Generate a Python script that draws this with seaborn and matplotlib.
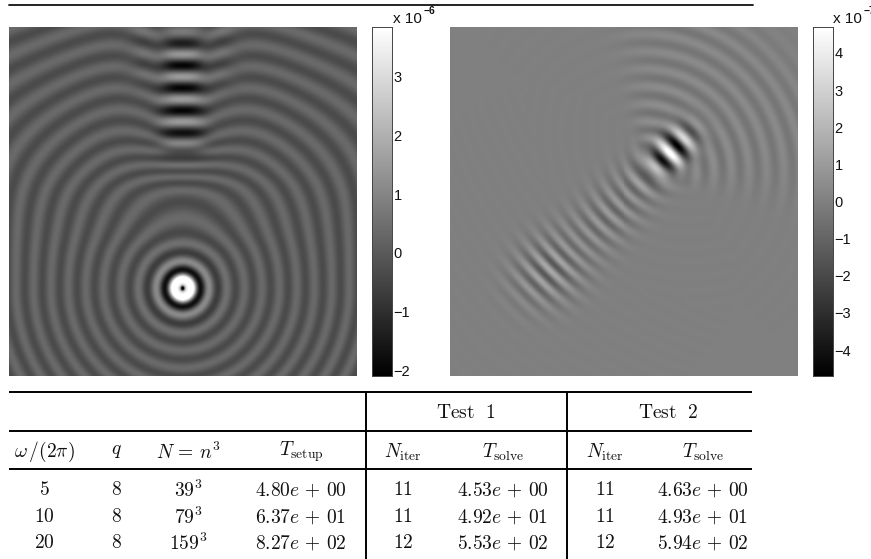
import numpy as np
import seaborn as sns
import matplotlib
matplotlib.use("Agg")
import matplotlib.pyplot as plt

# ---- table content ----
col_headers = [r"$\omega\,/(2\pi)$", r"$q$", r"$N\,=\,n^3$", r"$T_{\mathrm{setup}}$",
               r"$N_{\mathrm{iter}}$", r"$T_{\mathrm{solve}}$", r"$N_{\mathrm{iter}}$", r"$T_{\mathrm{solve}}$"]
group_headers = [r"$\mathrm{Test\ \ 1}$", r"$\mathrm{Test\ \ 2}$"]
freq = ["5", "10", "20"]
q_vals = ["8", "8", "8"]
grid_n = ["39", "79", "159"]
t_setup = ["4.80e+00", "6.37e+01", "8.27e+02"]
n_iter_1 = ["11", "11", "12"]
t_solve_1 = ["4.53e+00", "4.92e+01", "5.53e+02"]
n_iter_2 = ["11", "11", "12"]
t_solve_2 = ["4.63e+00", "4.93e+01", "5.94e+02"]

# ---- colour scales ----
left_range = (-2.1, 3.85)
right_range = (-4.7, 4.7)
left_ticks = [-2, -1, 0, 1, 2, 3]
right_ticks = [-4, -3, -2, -1, 0, 1, 2, 3, 4]

# ---- parameters of the wave fields, measured on the picture (unit square) ----
src_left = (0.499, 0.2515)
ring_wavelength = 0.050
fringe_wavelength = 0.0645
focus_right = (0.632, 0.639)
arc_centre = (0.56, 0.58)
blob_right = (0.287, 0.304)
arc_wavelength = 0.05

N = 349
u = (np.arange(N) + 0.5) / N
v = 1 - (np.arange(N) + 0.5) / N
U, V = np.meshgrid(u, v)


def smooth(x, a, b):
    t = np.clip((x - a) / (b - a), 0, 1)
    return t * t * (3 - 2 * t)


def left_field():
    dx, dy = U - src_left[0], V - src_left[1]
    up = np.clip(dy, 0, None)
    squeeze = 1 / (1 + (up / 0.5) ** 2)
    dist = np.hypot(dx * np.sqrt(squeeze), dy - 0.12 * up * up)
    r = np.hypot(dx, dy)
    flat = 0.05 * np.exp(-(dx / 0.3) ** 2) * smooth(V, 0.38, 0.56)
    dip = 0.09 * np.exp(-(dx / 0.14) ** 2) * smooth(V, 0.5, 0.72)
    phase = 2 * np.pi * (dist - flat + dip) / ring_wavelength - 3.62
    amp = 0.36 + 10 * np.exp(-dist / 0.03)
    rings = amp * np.cos(phase)
    # bright annulus with a small dark dot at the source
    core = np.exp(-(r / 0.03) ** 2)
    rings = rings * (1 - core) + core * 5.0 - 9 * np.exp(-(r / 0.0075) ** 2)
    env_x = np.exp(-(np.abs(dx) / 0.065) ** 3)
    env_y = smooth(V, 0.56, 0.74) * (1 - 0.45 * smooth(V, 0.9, 1.0))
    lobes = 0.3 * smooth(V, 0.75, 0.9) * np.exp(-((np.abs(dx) - 0.125) / 0.04) ** 2)
    fringe = (1.75 * env_x * env_y + lobes) * np.cos(2 * np.pi * (V - 0.922) / fringe_wavelength)
    weight = 1 - env_x * env_y
    return rings * weight + fringe - 0.25 * env_x * env_y


def right_field():
    s = ((U - focus_right[0]) + (V - focus_right[1])) / np.sqrt(2)
    t = (-(U - focus_right[0]) + (V - focus_right[1])) / np.sqrt(2)
    # arcs beyond the focus
    cx, cy = U - arc_centre[0], V - arc_centre[1]
    r = np.hypot(cx, cy) + 1e-6
    ang = np.arctan2(cy, cx) - np.pi / 4
    ang = (ang + np.pi) % (2 * np.pi) - np.pi
    sector = np.exp(-(ang / 0.95) ** 6)
    arcs = sector * smooth(r, 0.05, 0.13) * (0.34 + 0.9 * np.exp(-r / 0.12)) * \
        (1 - smooth(r, 0.42, 0.62)) * np.cos(2 * np.pi * r / arc_wavelength)
    # hot spot at the focus
    hot = 4.7 * np.exp(-(s / 0.085) ** 2 - (t / 0.045) ** 2) * np.cos(2 * np.pi * s / 0.062)
    # curved ripples along the beam, on the near side of the focus
    back = np.exp(-((s + 0.24) / 0.2) ** 2) * np.exp(-(t / 0.075) ** 2) * smooth(-s, -0.04, 0.05)
    rr = np.hypot(s - 0.08, t)
    ripple = 1.0 * back * np.cos(2 * np.pi * rr / 0.041)
    # stripes of the far blob
    bs = ((U - blob_right[0]) + (V - blob_right[1])) / np.sqrt(2)
    bt = (-(U - blob_right[0]) + (V - blob_right[1])) / np.sqrt(2)
    blob = 1.6 * np.exp(-(bs / 0.105) ** 2 - (bt / 0.085) ** 2) * \
        np.cos(2 * np.pi * (bs - 0.5 * bt ** 2) / 0.0405)
    return arcs + hot + ripple + blob


# ---- layout, in reference pixels ----
W, H = 871, 559
fig = plt.figure(figsize=(W / 100, H / 100), dpi=100)
sns.set_theme(style="white")
plt.rcParams["font.family"] = ["Liberation Sans", "DejaVu Sans"]
plt.rcParams["mathtext.fontset"] = "cm"


def axes_px(x0, y0, x1, y1):
    return fig.add_axes([x0 / W, 1 - y1 / H, (x1 - x0) / W, (y1 - y0) / H])


panels = [
    (left_field(), left_range, left_ticks, (9, 27, 357, 376), (372, 27, 392, 376), "x 10", "\u22126", 393),
    (right_field(), right_range, right_ticks, (450, 27, 798, 376), (813, 27, 833, 376), "x 10", "\u22127", 833),
]
for field, rng, ticks, box, cbox, lab, sup, lx in panels:
    ax = axes_px(*box)
    cax = axes_px(*cbox)
    sns.heatmap(field, ax=ax, cbar_ax=cax, cmap="gray", vmin=rng[0], vmax=rng[1],
                xticklabels=False, yticklabels=False, rasterized=True,
                cbar_kws={"ticks": ticks})
    ax.set_xticks([])
    ax.set_yticks([])
    cax.yaxis.set_ticks_position("both")
    cax.tick_params(axis="y", direction="in", length=3, width=0.6, color="#333333",
                    left=True, right=True, labelsize=10.5, pad=1, labelcolor="#111111")
    cax.set_yticks(ticks)
    cax.set_yticklabels([("\u2212%d" % -t) if t < 0 else str(t) for t in ticks])
    for sp in cax.spines.values():
        sp.set_visible(True)
        sp.set_linewidth(0.6)
        sp.set_color("#444444")
    fig.text(lx / W, 1 - 23 / H, lab, fontsize=11, color="#111111", va="baseline", ha="left")
    fig.text((lx + 31) / W, 1 - 14 / H, sup, fontsize=7.5, color="#111111", va="baseline", ha="left",
             fontweight="bold")

# ---- overlay for rules and table ----
ov = fig.add_axes([0, 0, 1, 1])
ov.set_xlim(0, W)
ov.set_ylim(H, 0)
ov.axis("off")
ov.patch.set_alpha(0)
ov.plot([9, 753], [5, 5], color="#111111", lw=1.3)
for y in (392, 430.5, 469):
    ov.plot([9, 752], [y, y], color="black", lw=1.4, solid_capstyle="butt")
for x in (365.5, 567):
    ov.plot([x, x], [392, 559], color="black", lw=1.4, solid_capstyle="butt")

col_x = [44, 116, 188, 301, 403, 503, 605, 703]
row_y = [490, 517, 543]
txt = dict(ha="center", va="center", fontsize=14, color="#111111")
for x, lab in zip((466, 668), group_headers):
    ov.text(x, 413, lab, **txt)
for x, lab in zip(col_x, col_headers):
    ov.text(x, 452, lab, **txt)


def sci(s):
    m, e = s.split("e+")
    return rf"${m}e\,+\,{e}$"


columns = [
    freq, q_vals, [rf"${n}^3$" for n in grid_n], [sci(s) for s in t_setup],
    n_iter_1, [sci(s) for s in t_solve_1], n_iter_2, [sci(s) for s in t_solve_2],
]
for x, col in zip(col_x, columns):
    for y, val in zip(row_y, col):
        ov.text(x, y, val if val.startswith("$") else f"${val}$", **txt)

fig.savefig("out.png", dpi=100)
